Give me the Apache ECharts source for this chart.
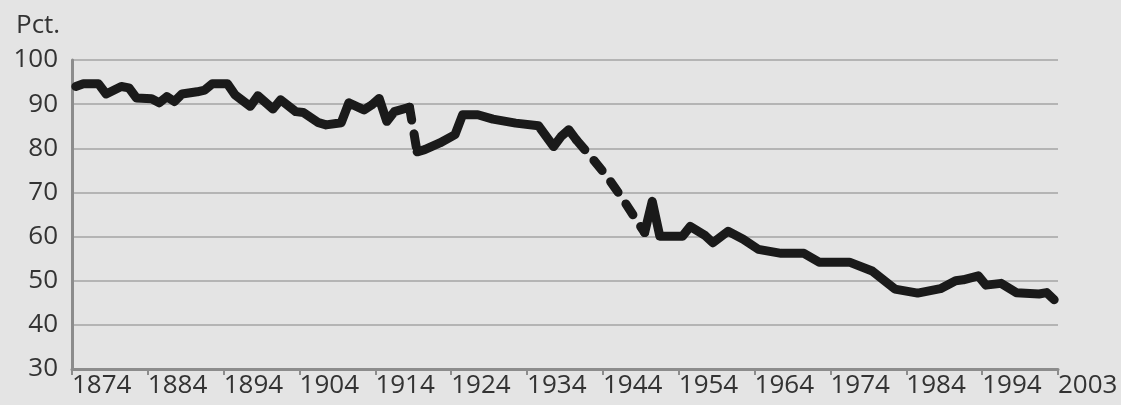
<!DOCTYPE html>
<html>
<head>
<meta charset="utf-8">
<script src="https://cdn.jsdelivr.net/npm/echarts@6/dist/echarts.min.js"></script>
<style>
  html, body { margin: 0; padding: 0; background: #e4e4e4; }
  #chart { width: 1121px; height: 405px; }
</style>
</head>
<body>
<div id="chart"></div>
<script>
// values (year, pct)
const years = [1874, 1875, 1877, 1878, 1880, 1881, 1882, 1884, 1885, 1886, 1887, 1888, 1890, 1891,
  1892, 1894, 1895, 1897, 1898, 1900, 1901, 1903, 1904, 1906, 1907, 1909, 1910, 1912, 1913, 1914,
  1915, 1916, 1918, 1919, 1920, 1922, 1924, 1925, 1927, 1929, 1932, 1935, 1937, 1938, 1939, 1940,
  1942, 1944, 1946, 1948, 1949, 1950, 1951, 1954, 1955, 1957, 1958, 1960, 1962, 1964, 1967, 1970,
  1972, 1976, 1979, 1982, 1985, 1988, 1990, 1991, 1993, 1994, 1996, 1998, 2001, 2002, 2003];
const pct = [94.0, 94.6, 94.6, 92.3, 94.0, 93.7, 91.4, 91.2, 90.3, 91.7, 90.6, 92.3, 92.8, 93.2,
  94.6, 94.6, 92.1, 89.5, 91.9, 88.9, 91.0, 88.3, 88.1, 85.8, 85.3, 85.8, 90.3, 88.7, 89.8, 91.3,
  86.1, 88.3, 89.3, 79.2, 79.7, 81.2, 83.1, 87.6, 87.6, 86.6, 85.7, 85.1, 80.4, 82.7, 84.2, 81.9,
  77.9, 73.7, 68.8, 63.5, 60.9, 68.0, 60.1, 60.1, 62.3, 60.2, 58.6, 61.2, 59.4, 57.1, 56.2, 56.2,
  54.2, 54.2, 52.2, 48.1, 47.2, 48.2, 50.0, 50.2, 51.1, 49.0, 49.4, 47.3, 47.0, 47.3, 45.7];
// stretches drawn dashed
const dashedSpans = [[1918, 1919], [1940, 1949]];
const firstYear = 1874;
const xTickLabels = ['1874', '1884', '1894', '1904', '1914', '1924', '1934', '1944', '1954', '1964', '1974', '1984', '1994', '2003'];

// split the line into solid / dashed pieces
const cuts = [years[0]];
dashedSpans.forEach(s => { cuts.push(s[0], s[1]); });
cuts.push(years[years.length - 1]);
const series = [];
for (let k = 0; k < cuts.length - 1; k++) {
  const a = cuts[k], b = cuts[k + 1];
  const pts = [];
  years.forEach((y, i) => {
    if (y >= a && y <= b) pts.push([y - firstYear + 0.5, pct[i]]);
  });
  const dashed = k % 2 === 1;
  series.push({
    type: 'line',
    data: pts,
    symbol: 'none',
    silent: true,
    lineStyle: {
      color: '#1a1a1a',
      width: 9,
      cap: 'round',
      join: 'round',
      type: dashed ? [13, 14] : 'solid'
    }
  });
}

const chart = echarts.init(document.getElementById('chart'));
chart.setOption({
  backgroundColor: '#e4e4e4',
  animation: false,
  title: {
    text: 'Pct.',
    left: 11,
    top: 8,
    textStyle: { fontFamily: 'Open Sans', fontSize: 26, fontWeight: 'normal', color: '#333' }
  },
  grid: { left: 72, right: 63, top: 60, bottom: 36 },
  xAxis: {
    type: 'value',
    min: 0,
    max: 130,
    interval: 10,
    splitLine: { show: false },
    axisLine: { lineStyle: { color: '#8c8c8c', width: 3 } },
    axisTick: { length: 6, lineStyle: { color: '#8c8c8c', width: 2 } },
    axisLabel: {
      align: 'left',
      margin: 4,
      fontFamily: 'Open Sans',
      fontSize: 26,
      color: '#333',
      showMaxLabel: true,
      formatter: v => xTickLabels[Math.round(v / 10)]
    }
  },
  yAxis: {
    type: 'value',
    min: 30,
    max: 100,
    interval: 10,
    axisLine: { show: true, lineStyle: { color: '#8c8c8c', width: 3 } },
    axisTick: { show: false },
    splitLine: { lineStyle: { color: '#b4b4b4', width: 2 } },
    axisLabel: {
      margin: 14,
      fontFamily: 'Open Sans',
      fontSize: 26,
      color: '#333'
    }
  },
  series: series
});
</script>
</body>
</html>
